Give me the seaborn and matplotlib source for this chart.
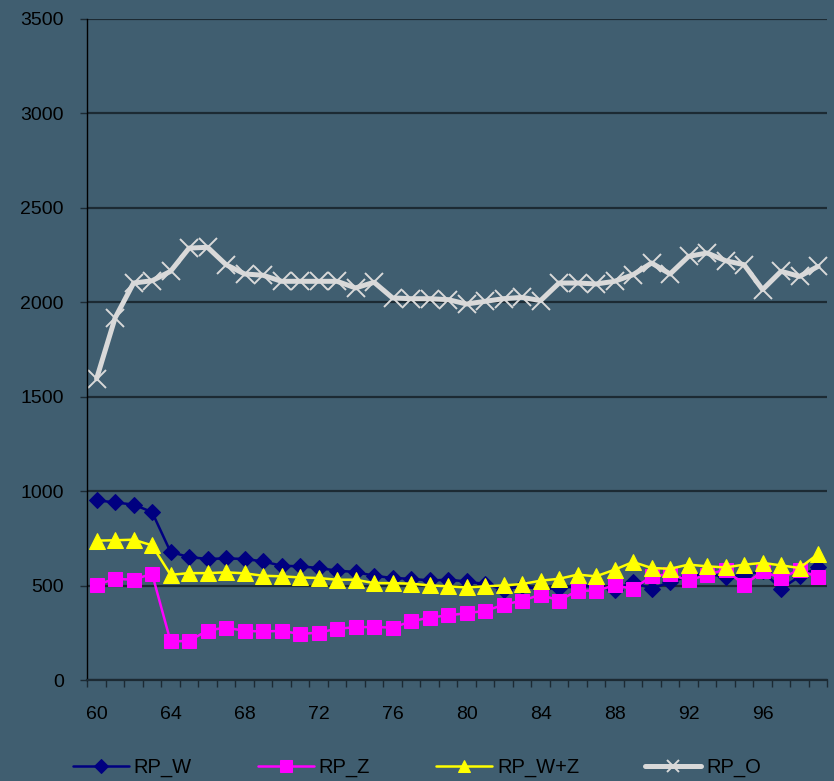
import numpy as np
import pandas as pd
import matplotlib
matplotlib.use("Agg")
import matplotlib.pyplot as plt
import seaborn as sns

# categories (one per year, labels shown every 4th)
years = list(range(60, 100))
tick_years = list(range(60, 100, 4))

rp_w = [952, 940, 929, 889, 678, 651, 641, 644, 641, 628,
        605, 602, 593, 579, 572, 552, 540, 536, 527, 531,
        522, 508, 478, 496, 481, 487, 496, 496, 478, 519,
        483, 519, 549, 566, 543, 558, 575, 483, 549, 596]
rp_z = [504, 536, 531, 563, 204, 207, 262, 278, 260, 257,
        260, 244, 251, 271, 280, 280, 278, 310, 331, 342,
        354, 366, 398, 421, 451, 421, 473, 473, 501, 483,
        549, 561, 527, 558, 584, 504, 575, 540, 584, 543]
rp_wz = [738, 740, 743, 713, 557, 566, 566, 570, 565, 552,
         549, 543, 540, 531, 531, 513, 513, 510, 501, 496,
         490, 496, 501, 508, 526, 536, 558, 549, 584, 625,
         593, 589, 611, 602, 596, 611, 620, 607, 593, 667]
rp_o = [1595, 1917, 2102, 2114, 2164, 2287, 2291, 2199, 2150, 2143,
        2111, 2111, 2111, 2111, 2076, 2106, 2023, 2019, 2019, 2014,
        1991, 2005, 2019, 2026, 2009, 2102, 2102, 2097, 2111, 2146,
        2208, 2150, 2243, 2261, 2220, 2199, 2067, 2164, 2137, 2190]

series_names = ["RP_W", "RP_Z", "RP_W+Z", "RP_O"]

bg = "#405e70"
sns.set_theme(style="white", rc={"axes.facecolor": bg, "figure.facecolor": bg})
plt.rcParams["font.family"] = ["Liberation Sans", "DejaVu Sans"]

fig, ax = plt.subplots(figsize=(8.34, 7.81), dpi=100)
fig.subplots_adjust(left=0.1047, right=0.992, top=0.9757, bottom=0.1293)

styles = {
    "RP_W": dict(color="#000080", marker="D", markersize=8.5, linewidth=1.8),
    "RP_Z": dict(color="#ff00ff", marker="s", markersize=10.5, linewidth=1.8),
    "RP_W+Z": dict(color="#ffff00", marker="^", markersize=11, linewidth=1.8),
    "RP_O": dict(color="#d9d9d9", marker="x", markersize=13, linewidth=3.6,
                 markeredgewidth=1.4),
}
# smaller markers in the legend, as in the original
legend_marker = {"RP_W": 7, "RP_Z": 8.5, "RP_W+Z": 8.5, "RP_O": 8.5}

for name, vals in zip(series_names, [rp_w, rp_z, rp_wz, rp_o]):
    st = styles[name]
    sns.lineplot(x=years, y=vals, ax=ax, label=name,
                 markeredgecolor=st["color"], **st)

ax.set_xlim(59.5, 99.5)
ax.set_ylim(0, 3500)

# y axis
ax.set_yticks(np.arange(0, 3501, 500))
ax.yaxis.grid(True, color="#1c2a33", linewidth=1.6)
ax.set_axisbelow(True)
ax.tick_params(axis="y", which="major", direction="out", length=5, width=1,
               color="#1c2a33", pad=12, labelsize=14, labelcolor="black", left=True)

# x axis: boundary ticks + labels every 4th category
ax.set_xticks(np.arange(59.5, 100, 1))
ax.set_xticklabels([])
ax.set_xticks(tick_years, minor=True)
ax.set_xticklabels([str(y) for y in tick_years], minor=True)
ax.tick_params(axis="x", which="major", direction="out", length=5, width=1,
               color="#1c2a33", bottom=True)
ax.tick_params(axis="x", which="minor", length=0, pad=19, labelsize=14,
               labelcolor="black")

for side in ["top", "right"]:
    ax.spines[side].set_visible(False)
ax.spines["left"].set_color("black")
ax.spines["left"].set_linewidth(1)
ax.spines["bottom"].set_color("#1c2a33")
ax.spines["bottom"].set_linewidth(1.6)

ax.set_xlabel("")
ax.set_ylabel("")

leg = ax.legend(loc="center", bbox_to_anchor=(0.5, 0.017), bbox_transform=fig.transFigure,
                ncol=4, frameon=False, fontsize=14.5, handlelength=2.75,
                handletextpad=0.25, columnspacing=3.3, labelcolor="black")
for line, name in zip(leg.get_lines(), series_names):
    line.set_markersize(legend_marker[name])

fig.savefig("out.png", dpi=100, facecolor=bg)
